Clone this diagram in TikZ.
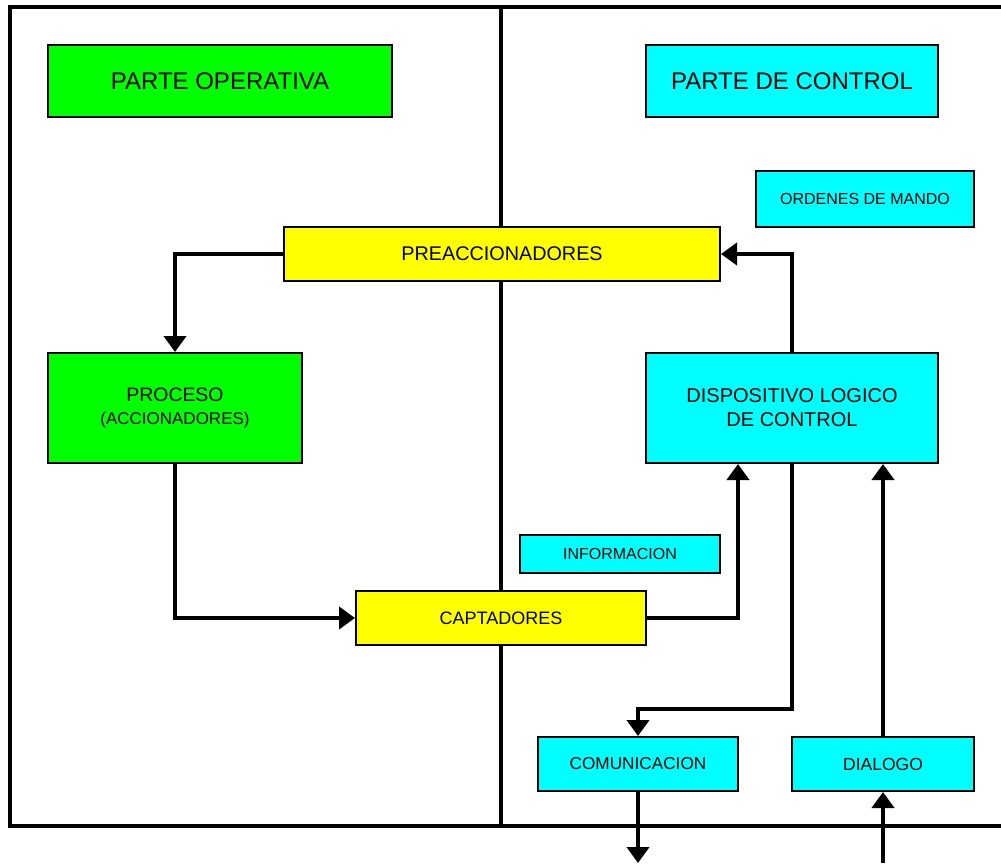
\documentclass[tikz,border=0pt]{standalone}
\usepackage{fontspec}
\setmainfont{Liberation Sans}
\usetikzlibrary{arrows.meta}

\definecolor{opgreen}{RGB}{0,255,0}
\definecolor{ctlcyan}{RGB}{0,255,255}
\definecolor{midyellow}{RGB}{255,255,0}

\tikzset{
  box/.style={draw=black, line width=2pt, rectangle, inner sep=0pt, align=center},
  gbox/.style={box, fill=opgreen},
  cbox/.style={box, fill=ctlcyan},
  ybox/.style={box, fill=midyellow},
  link/.style={line width=4pt, -{Triangle[width=22pt,length=16pt]}},
  frame/.style={line width=4pt}
}

\begin{document}
\begin{tikzpicture}[x=1pt, y=-1pt]
\useasboundingbox (0,0) rectangle (1001,863);

% outer frame and the divider between the two halves
\draw[frame] (1001,7) -- (10,7) -- (10,826) -- (1001,826);
\draw[frame] (501,7) -- (501,826);

% titles
\node[gbox, minimum width=344pt, minimum height=72pt,
      font=\fontsize{24}{28}\selectfont] (op) at (220,81) {PARTE OPERATIVA};
\node[cbox, minimum width=292pt, minimum height=72pt,
      font=\fontsize{24}{28}\selectfont] (ctl) at (792,81) {PARTE DE CONTROL};

% labels
\node[cbox, minimum width=218pt, minimum height=56pt,
      font=\fontsize{16}{19}\selectfont] (ordenes) at (865,199) {ORDENES DE MANDO};
\node[cbox, minimum width=200pt, minimum height=38pt,
      font=\fontsize{16}{19}\selectfont] (info) at (620,554) {INFORMACION};

% blocks
\node[ybox, minimum width=436pt, minimum height=54pt,
      font=\fontsize{19.8}{23}\selectfont] (preacc) at (502,254) {PREACCIONADORES};
\node[gbox, minimum width=254pt, minimum height=110pt,
      font=\fontsize{19.4}{23}\selectfont] (proceso) at (175,408)
  {PROCESO\\{\fontsize{17}{23}\selectfont (ACCIONADORES)}};
\node[cbox, minimum width=292pt, minimum height=110pt,
      font=\fontsize{20}{24}\selectfont] (dlc) at (792,408)
  {DISPOSITIVO LOGICO\\DE CONTROL};
\node[ybox, minimum width=290pt, minimum height=54pt,
      font=\fontsize{18}{21}\selectfont] (capt) at (501,618) {CAPTADORES};
\node[cbox, minimum width=200pt, minimum height=54pt,
      font=\fontsize{17.2}{20}\selectfont] (comun) at (638,764) {COMUNICACION};
\node[cbox, minimum width=182pt, minimum height=54pt,
      font=\fontsize{17.5}{20}\selectfont] (dialogo) at (883,764) {DIALOGO};

% free ends at the lower edge
\coordinate (out) at (638,863);
\coordinate (in) at (883,863);

% connectors
\draw[link] (preacc.west) -| (proceso.north);
\draw[link] (proceso.south) |- (capt.west);
\draw[link] (capt.east) -| ([xshift=-54pt]dlc.south);
\draw[link] (dlc.north) |- (preacc.east);
\draw[link] (dlc.south) |- ([yshift=27pt]comun.north) -- (comun.north);
\draw[link] (dialogo.north) -- (dialogo.north |- dlc.south);
\draw[link] (comun.south) -- (out);
\draw[link] (in) -- (dialogo.south);
\end{tikzpicture}
\end{document}
